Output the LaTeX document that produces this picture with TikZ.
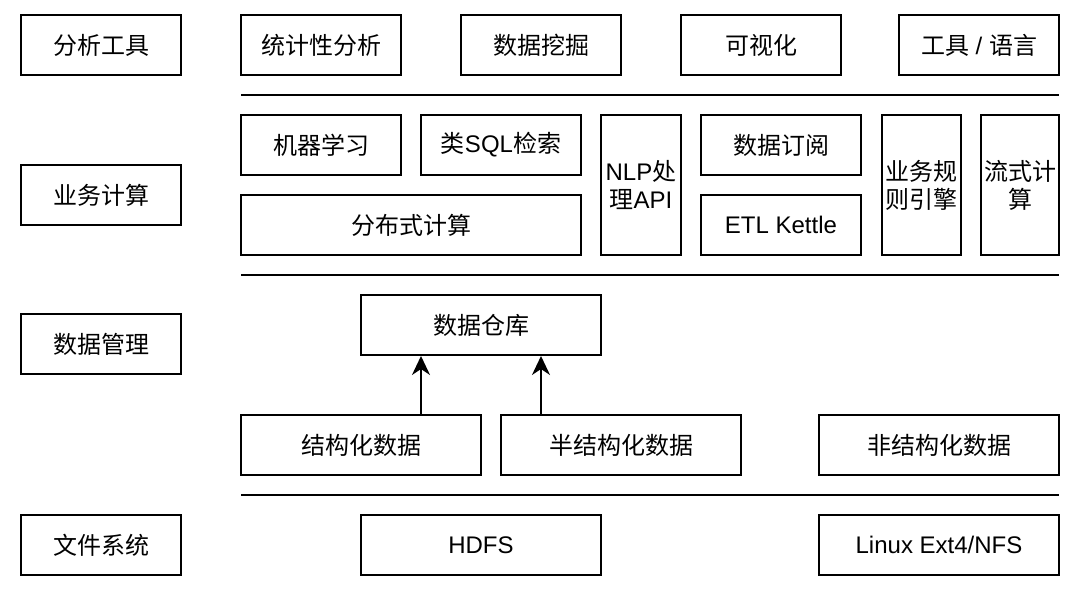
\documentclass[tikz,border=0pt]{standalone}
\usepackage{fontspec}
\setmainfont{Noto Sans CJK SC}
\newfontfamily\lat{Liberation Sans}
\usetikzlibrary{arrows.meta}
\tikzset{
  box/.style={draw=black, line width=2pt, fill=white, inner sep=0pt, align=center,
    font=\fontsize{24}{28}\selectfont},
  sep/.style={line width=2pt},
  arr/.style={line width=2pt, -{Stealth[length=19pt, width=18pt, inset=6pt]}}
}
\newcommand{\bx}[7]{% name, x1, y1, x2, y2, text
  \node[box, minimum width={#4-#2}, minimum height={#5-#3}] (#1) at ({(#2+#4)/2},{(#3+#5)/2}) {#6};}
\begin{document}
\begin{tikzpicture}[x=1pt,y=-1pt]
\path[use as bounding box, fill=white] (0,0) rectangle (1084,594);
% left column
\bx{l1}{21}{15}{181}{75}{分析工具}{}
\bx{l2}{21}{165}{181}{225}{业务计算}{}
\bx{l3}{21}{314}{181}{374}{数据管理}{}
\bx{l4}{21}{515}{181}{575}{文件系统}{}
% row 1
\bx{a1}{241}{15}{401}{75}{统计性分析}{}
\bx{a2}{461}{15}{621}{75}{数据挖掘}{}
\bx{a3}{681}{15}{841}{75}{可视化}{}
\bx{a4}{899}{15}{1059}{75}{工具{\lat\ / }语言}{}
\draw[sep] (241,95) -- (1059,95);
% row 2
\bx{b1}{241}{115}{401}{175}{机器学习}{}
\bx{b2}{421}{115}{581}{175}{类{\lat SQL}检索}{}
\bx{b3}{241}{195}{581}{255}{分布式计算}{}
\bx{b4}{601}{115}{681}{255}{{\lat NLP}处\\理{\lat API}}{}
\bx{b5}{701}{115}{861}{175}{数据订阅}{}
\bx{b6}{701}{195}{861}{255}{{\lat ETL Kettle}}{}
\bx{b7}{882}{115}{961}{255}{业务规\\则引擎}{}
\bx{b8}{981}{115}{1059}{255}{流式计\\算}{}
\draw[sep] (241,275) -- (1059,275);
% row 3
\bx{wh}{361}{295}{601}{355}{数据仓库}{}
\bx{sd}{241}{415}{481}{475}{结构化数据}{}
\bx{ssd}{501}{415}{741}{475}{半结构化数据}{}
\bx{usd}{819}{415}{1059}{475}{非结构化数据}{}
\draw[arr] ([xshift=60pt]sd.north) -- ([xshift=60pt]sd.north |- wh.south);
\draw[arr] ([xshift=-80pt]ssd.north) -- ([xshift=-80pt]ssd.north |- wh.south);
\draw[sep] (241,495) -- (1059,495);
% row 4
\bx{hdfs}{361}{515}{601}{575}{{\lat HDFS}}{}
\bx{lin}{819}{515}{1059}{575}{{\lat Linux Ext4/NFS}}{}
\end{tikzpicture}
\end{document}
